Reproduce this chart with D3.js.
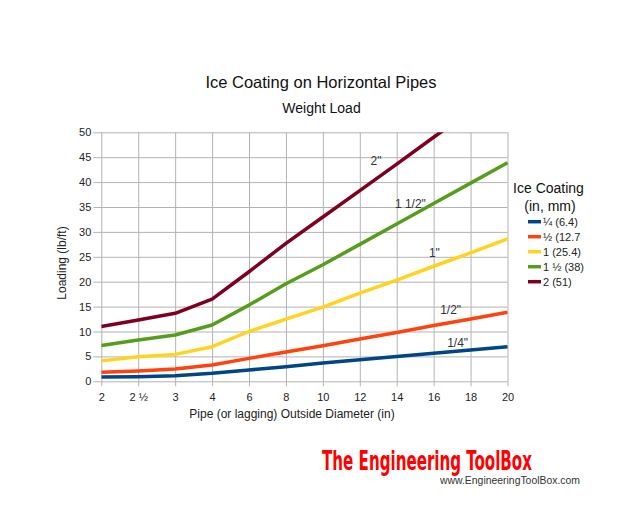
<!DOCTYPE html>
<html>
<head>
<meta charset="utf-8">
<script src="https://cdn.jsdelivr.net/npm/d3@7"></script>
<style>
  body { margin: 0; background: #fff; }
  svg { display: block; font-family: "Liberation Sans", Arial, sans-serif; }
</style>
</head>
<body>
<div id="chart"></div>
<script>
const categories = ["2", "2 ½", "3", "4", "6", "8", "10", "12", "14", "16", "18", "20"];
const seriesNames = ["¼ (6.4)", "½ (12.7", "1 (25.4)", "1 ½ (38)", "2 (51)"];
const seriesColors = ["#004586", "#ff420e", "#ffd320", "#579d1c", "#7e0021"];
const quarter = [0.87, 0.93, 1.13, 1.6, 2.27, 2.93, 3.67, 4.34, 5.0, 5.65, 6.3, 6.95];
const half = [1.8, 2.07, 2.47, 3.27, 4.6, 5.9, 7.15, 8.5, 9.8, 11.2, 12.5, 13.85];
const one = [4.1, 4.95, 5.4, 6.95, 10.0, 12.5, 14.9, 17.7, 20.3, 23.1, 25.8, 28.6];
const oneHalf = [7.2, 8.3, 9.3, 11.3, 15.3, 19.6, 23.4, 27.5, 31.6, 35.7, 39.8, 43.9];
const two = [11.0, 12.3, 13.65, 16.5, 22.0, 27.7, 33.0, 38.3, 43.6, 49.0, 54.3, 59.6];
const yTicks = [0, 5, 10, 15, 20, 25, 30, 35, 40, 45, 50];
// inline labels: text, position along the category axis, value it sits at
const lineLabels = [
  { text: "1/4\"", cat: 9.65, value: 7.7 },
  { text: "1/2\"", cat: 9.46, value: 14.4 },
  { text: "1\"", cat: 9.02, value: 25.9 },
  { text: "1 1/2\"", cat: 8.37, value: 35.6 },
  { text: "2\"", cat: 7.44, value: 44.2 }
];

const width = 643, height = 529;
const plot = { left: 101.3, right: 507.5, top: 132.3, bottom: 381.3 };

const svg = d3.select("#chart")
  .append("svg")
  .attr("width", width)
  .attr("height", height);

const x = d3.scalePoint()
  .domain(categories)
  .range([plot.left, plot.right]);

const y = d3.scaleLinear()
  .domain([0, 50])
  .range([plot.bottom, plot.top]);

const grid = "#b3b3b3";

// horizontal grid + y ticks
svg.append("g")
  .attr("transform", `translate(${plot.left},0)`)
  .call(d3.axisLeft(y).tickValues(yTicks).tickSizeInner(-(plot.right - plot.left)).tickSizeOuter(0))
  .call(g => g.select(".domain").remove())
  .call(g => g.selectAll(".tick line").attr("stroke", grid).attr("x1", -8))
  .call(g => g.selectAll("text").attr("fill", "#222").style("font-size", "11px").attr("x", -10));

// vertical grid + x ticks
svg.append("g")
  .attr("transform", `translate(0,${plot.bottom})`)
  .call(d3.axisBottom(x).tickSizeInner(-(plot.bottom - plot.top)).tickSizeOuter(0))
  .call(g => g.select(".domain").remove())
  .call(g => g.selectAll(".tick line").attr("stroke", grid).attr("y1", 5))
  .call(g => g.selectAll("text").attr("fill", "#222").style("font-size", "11px").attr("y", 12));

// series
svg.append("clipPath").attr("id", "clip")
  .append("rect")
  .attr("x", plot.left).attr("y", plot.top)
  .attr("width", plot.right - plot.left + 4).attr("height", plot.bottom - plot.top);

const allSeries = [quarter, half, one, oneHalf, two];
const line = d3.line()
  .x((d, i) => x(categories[i]))
  .y(d => y(d));

svg.append("g")
  .attr("clip-path", "url(#clip)")
  .selectAll("path")
  .data(allSeries)
  .join("path")
  .attr("d", line)
  .attr("fill", "none")
  .attr("stroke", (d, i) => seriesColors[i])
  .attr("stroke-width", 3.5)
  .attr("stroke-linejoin", "round");

// inline labels
const step = x.step();
svg.append("g")
  .selectAll("text")
  .data(lineLabels)
  .join("text")
  .attr("x", d => plot.left + d.cat * step)
  .attr("y", d => y(d.value))
  .attr("text-anchor", "middle")
  .attr("dy", "0.35em")
  .attr("fill", "#333")
  .style("font-size", "12px")
  .text(d => d.text);

// titles
svg.append("text")
  .attr("x", 321).attr("y", 88)
  .attr("text-anchor", "middle")
  .style("font-size", "16.5px")
  .attr("fill", "#111")
  .text("Ice Coating on Horizontal Pipes");

svg.append("text")
  .attr("x", 321.5).attr("y", 113)
  .attr("text-anchor", "middle")
  .style("font-size", "14px")
  .attr("fill", "#111")
  .text("Weight Load");

svg.append("text")
  .attr("transform", "translate(66,263) rotate(-90)")
  .attr("text-anchor", "middle")
  .style("font-size", "12px")
  .attr("fill", "#222")
  .text("Loading (lb/ft)");

svg.append("text")
  .attr("x", 292).attr("y", 418)
  .attr("text-anchor", "middle")
  .style("font-size", "12px")
  .attr("fill", "#222")
  .text("Pipe (or lagging) Outside Diameter (in)");

// legend
const legend = svg.append("g");
legend.append("text")
  .attr("x", 548.5).attr("y", 193)
  .attr("text-anchor", "middle")
  .style("font-size", "14px")
  .attr("fill", "#111")
  .text("Ice Coating");
legend.append("text")
  .attr("x", 550).attr("y", 211)
  .attr("text-anchor", "middle")
  .style("font-size", "14px")
  .attr("fill", "#111")
  .text("(in, mm)");

const rows = legend.selectAll("g.item")
  .data(seriesNames)
  .join("g")
  .attr("class", "item")
  .attr("transform", (d, i) => `translate(528,${221.7 + i * 15})`);
rows.append("line")
  .attr("x1", 0).attr("x2", 13)
  .attr("stroke", (d, i) => seriesColors[i])
  .attr("stroke-width", 3.5);
rows.append("text")
  .attr("x", 15).attr("dy", "0.35em")
  .style("font-size", "11px")
  .attr("fill", "#222")
  .text(d => d);

// logo
svg.append("text")
  .attr("x", 322).attr("y", 470)
  .attr("textLength", 210)
  .attr("lengthAdjust", "spacingAndGlyphs")
  .style("font-family", "'DejaVu Sans Condensed', 'Liberation Sans Narrow', sans-serif")
  .style("font-weight", "bold")
  .style("font-size", "27px")
  .attr("fill", "#ff0000")
  .text("The Engineering ToolBox");

svg.append("text")
  .attr("x", 440).attr("y", 484)
  .attr("textLength", 140)
  .attr("lengthAdjust", "spacingAndGlyphs")
  .style("font-size", "10px")
  .attr("fill", "#333")
  .text("www.EngineeringToolBox.com");
</script>
</body>
</html>
